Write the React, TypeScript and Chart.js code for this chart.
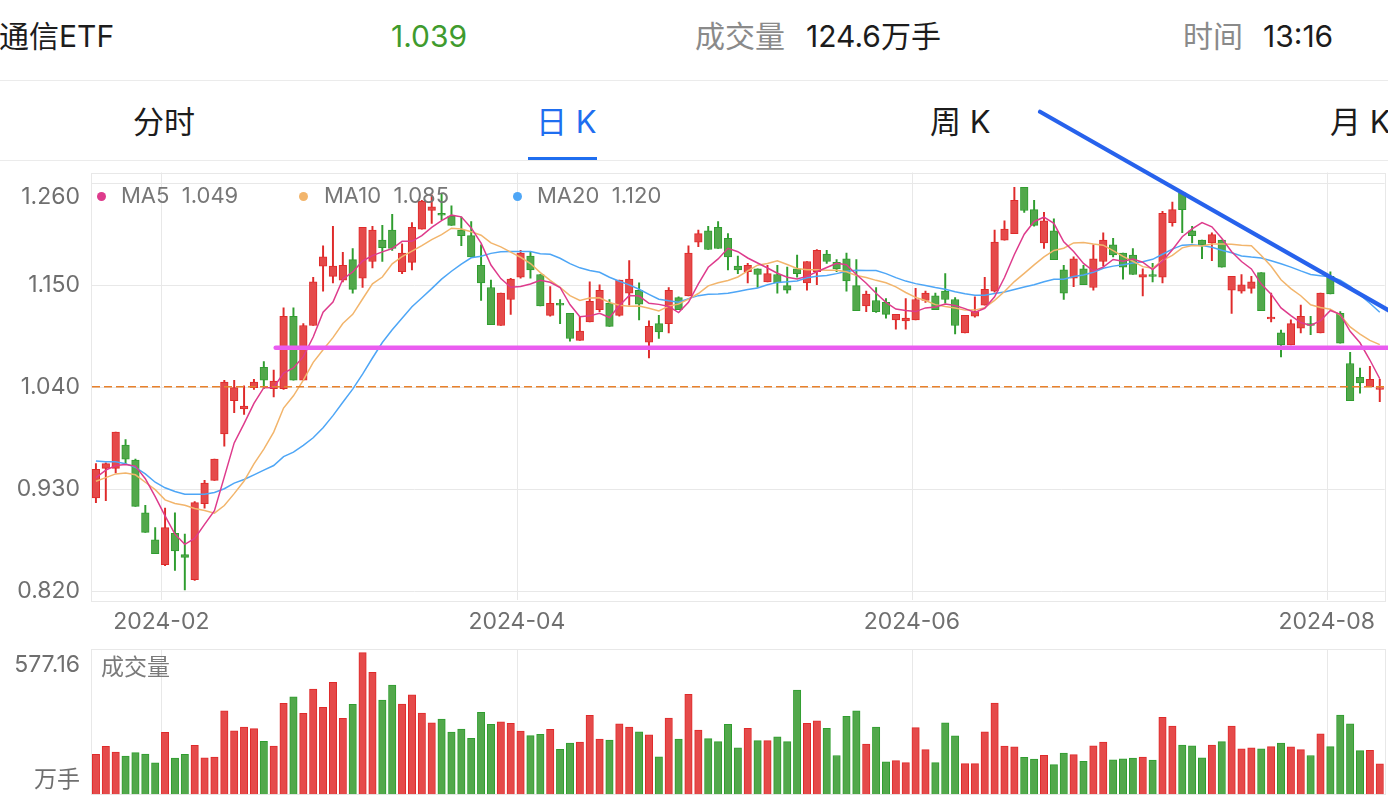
import React, { useEffect, useRef } from 'react';
import { Chart, registerables } from 'chart.js';

Chart.register(...registerables);

// ---------- data ----------
const monthDays: [string, number[]][] = [
  ['2024-01', [23, 24, 25, 26, 29, 30, 31]],
  ['2024-02', [1, 2, 5, 6, 7, 8, 19, 20, 21, 22, 23, 26, 27, 28, 29]],
  ['2024-03', [1, 4, 5, 6, 7, 8, 11, 12, 13, 14, 15, 18, 19, 20, 21, 22, 25, 26, 27, 28, 29]],
  ['2024-04', [1, 2, 3, 8, 9, 10, 11, 12, 15, 16, 17, 18, 19, 22, 23, 24, 25, 26, 29, 30]],
  ['2024-05', [6, 7, 8, 9, 10, 13, 14, 15, 16, 17, 20, 21, 22, 23, 24, 27, 28, 29, 30, 31]],
  ['2024-06', [3, 4, 5, 6, 7, 11, 12, 13, 14, 17, 18, 19, 20, 21, 24, 25, 26, 27, 28]],
  ['2024-07', [1, 2, 3, 4, 5, 8, 9, 10, 11, 12, 15, 16, 17, 18, 19, 22, 23, 24, 25, 26, 29, 30, 31]],
  ['2024-08', [1, 2, 5, 6, 7, 8]],
];
const categories: string[] = monthDays.flatMap(([m, ds]) =>
  ds.map((d) => `${m}-${String(d).padStart(2, '0')}`)
);
const xTickMonths = ['2024-02', '2024-04', '2024-06', '2024-08'];
const yTicks = [0.82, 0.93, 1.04, 1.15, 1.26];

const opens = [
  0.920, 0.952, 0.952, 0.977, 0.961, 0.904, 0.875, 0.848, 0.882, 0.859,
  0.832, 0.914, 0.939, 0.989, 1.025, 1.016, 1.039, 1.061, 1.038, 1.038,
  1.116, 1.047, 1.106, 1.170, 1.159, 1.155, 1.177, 1.157, 1.175, 1.198,
  1.209, 1.164, 1.174, 1.210, 1.230, 1.227, 1.224, 1.209, 1.203, 1.171,
  1.147, 1.106, 1.134, 1.158, 1.181, 1.161, 1.117, 1.130, 1.119, 1.090,
  1.110, 1.123, 1.130, 1.117, 1.141, 1.144, 1.088, 1.108, 1.108, 1.136,
  1.138, 1.196, 1.208, 1.212, 1.200, 1.170, 1.164, 1.167, 1.153, 1.161,
  1.149, 1.167, 1.152, 1.164, 1.183, 1.174, 1.178, 1.149, 1.127, 1.133,
  1.131, 1.112, 1.111, 1.112, 1.133, 1.138, 1.143, 1.134, 1.098, 1.116,
  1.128, 1.143, 1.198, 1.205, 1.255, 1.231, 1.195, 1.208, 1.166, 1.157,
  1.167, 1.147, 1.175, 1.193, 1.184, 1.182, 1.158, 1.161, 1.158, 1.217,
  1.249, 1.208, 1.198, 1.195, 1.198, 1.144, 1.143, 1.146, 1.163, 1.113,
  1.098, 1.085, 1.103, 1.108, 1.098, 1.159, 1.119, 1.065, 1.050, 1.040,
  1.037,
];
const highs = [
  0.957, 0.958, 0.991, 0.983, 0.962, 0.912, 0.888, 0.909, 0.904, 0.881,
  0.916, 0.939, 0.962, 1.047, 1.047, 1.041, 1.048, 1.067, 1.058, 1.125,
  1.125, 1.108, 1.158, 1.192, 1.213, 1.185, 1.189, 1.212, 1.213, 1.214,
  1.226, 1.194, 1.217, 1.241, 1.247, 1.248, 1.235, 1.223, 1.218, 1.193,
  1.155, 1.141, 1.157, 1.187, 1.186, 1.161, 1.148, 1.134, 1.119, 1.116,
  1.153, 1.150, 1.134, 1.155, 1.176, 1.152, 1.111, 1.117, 1.147, 1.137,
  1.192, 1.209, 1.213, 1.218, 1.205, 1.181, 1.173, 1.167, 1.171, 1.171,
  1.169, 1.182, 1.175, 1.188, 1.187, 1.177, 1.184, 1.177, 1.143, 1.147,
  1.135, 1.118, 1.135, 1.146, 1.143, 1.141, 1.162, 1.136, 1.117, 1.137,
  1.158, 1.209, 1.219, 1.255, 1.255, 1.241, 1.228, 1.221, 1.171, 1.180,
  1.171, 1.193, 1.206, 1.200, 1.184, 1.189, 1.167, 1.173, 1.229, 1.239,
  1.249, 1.213, 1.198, 1.206, 1.198, 1.159, 1.161, 1.159, 1.163, 1.141,
  1.101, 1.112, 1.128, 1.116, 1.141, 1.164, 1.121, 1.077, 1.060, 1.062,
  1.048,
];
const lows = [
  0.915, 0.917, 0.947, 0.957, 0.911, 0.883, 0.860, 0.847, 0.842, 0.821,
  0.831, 0.909, 0.939, 0.976, 1.012, 1.010, 1.037, 1.038, 1.029, 1.037,
  1.047, 1.047, 1.106, 1.143, 1.152, 1.153, 1.141, 1.147, 1.168, 1.175,
  1.187, 1.162, 1.166, 1.210, 1.216, 1.220, 1.214, 1.192, 1.180, 1.133,
  1.107, 1.106, 1.118, 1.157, 1.157, 1.127, 1.116, 1.108, 1.089, 1.090,
  1.110, 1.121, 1.105, 1.116, 1.128, 1.112, 1.071, 1.092, 1.098, 1.123,
  1.138, 1.191, 1.188, 1.189, 1.166, 1.162, 1.152, 1.147, 1.153, 1.141,
  1.141, 1.158, 1.144, 1.150, 1.173, 1.164, 1.143, 1.122, 1.121, 1.120,
  1.114, 1.102, 1.102, 1.112, 1.131, 1.123, 1.130, 1.097, 1.098, 1.115,
  1.128, 1.142, 1.198, 1.205, 1.228, 1.213, 1.189, 1.177, 1.134, 1.148,
  1.150, 1.144, 1.170, 1.180, 1.156, 1.161, 1.138, 1.153, 1.152, 1.213,
  1.206, 1.195, 1.178, 1.176, 1.169, 1.119, 1.141, 1.141, 1.122, 1.110,
  1.072, 1.085, 1.098, 1.096, 1.098, 1.140, 1.087, 1.025, 1.033, 1.040,
  1.024,
];
const closes = [
  0.951, 0.957, 0.991, 0.962, 0.911, 0.883, 0.860, 0.888, 0.863, 0.856,
  0.915, 0.936, 0.962, 1.045, 1.039, 1.019, 1.045, 1.047, 1.046, 1.116,
  1.047, 1.106, 1.153, 1.180, 1.170, 1.171, 1.145, 1.212, 1.209, 1.190,
  1.189, 1.184, 1.212, 1.240, 1.234, 1.225, 1.214, 1.203, 1.180, 1.152,
  1.107, 1.141, 1.156, 1.184, 1.166, 1.127, 1.130, 1.128, 1.092, 1.100,
  1.132, 1.144, 1.105, 1.155, 1.156, 1.129, 1.105, 1.099, 1.144, 1.123,
  1.184, 1.205, 1.188, 1.189, 1.180, 1.166, 1.171, 1.161, 1.162, 1.152,
  1.144, 1.162, 1.175, 1.187, 1.175, 1.167, 1.154, 1.122, 1.140, 1.121,
  1.118, 1.118, 1.114, 1.134, 1.141, 1.123, 1.134, 1.106, 1.117, 1.121,
  1.145, 1.196, 1.210, 1.241, 1.230, 1.214, 1.219, 1.177, 1.141, 1.178,
  1.150, 1.178, 1.198, 1.182, 1.169, 1.161, 1.161, 1.159, 1.227, 1.231,
  1.231, 1.203, 1.193, 1.204, 1.169, 1.159, 1.150, 1.153, 1.122, 1.115,
  1.085, 1.108, 1.116, 1.106, 1.141, 1.140, 1.087, 1.025, 1.044, 1.048,
  1.039,
];
// 成交量 (万手)
const volumes = [
  163, 196, 172, 156, 170, 164, 128, 253, 148, 163,
  200, 149, 152, 340, 259, 274, 268, 216, 197, 371,
  397, 330, 429, 354, 456, 310, 367, 577.16, 497, 384,
  445, 368, 405, 331, 291, 307, 254, 266, 228, 334,
  285, 295, 289, 258, 239, 244, 265, 183, 209, 213,
  322, 225, 221, 287, 274, 255, 242, 153, 311, 225,
  407, 262, 227, 215, 285, 189, 269, 219, 219, 234,
  215, 425, 289, 299, 269, 158, 318, 340, 205, 274,
  132, 137, 129, 272, 182, 129, 291, 238, 125, 125,
  255, 372, 197, 193, 151, 144, 159, 121, 168, 162,
  134, 198, 213, 141, 145, 148, 152, 139, 314, 278,
  201, 198, 149, 201, 215, 278, 185, 189, 185, 194,
  209, 193, 182, 158, 246, 194, 323, 287, 178, 179,
  124.6,
];
const ma5Head = [0.942, 0.950, 0.955, 0.956];
const ma10Head = [0.938, 0.942, 0.946, 0.947, 0.945, 0.937, 0.929, 0.918, 0.914];
const ma20Head = [
  0.960, 0.959, 0.959, 0.957, 0.953, 0.946, 0.937, 0.931, 0.927, 0.924,
  0.924, 0.924, 0.926, 0.930, 0.936, 0.940, 0.945, 0.950, 0.955,
];
const refLevel = 1.04; // dashed reference line
const supportLevel = 1.082; // magenta line
const supportStart = 18.2;
const trendLine = [
  { i: 95.6, v: 1.3365 },
  { i: 131.5, v: 1.1187 },
];
const stockName = '通信ETF';
const timeText = '13:16';

// ---------- derived ----------
function movingAvg(period: number, head: number[]) {
  return closes.map((_, i) => {
    if (i < period - 1) return head[i];
    let s = 0;
    for (let k = i - period + 1; k <= i; k++) s += closes[k];
    return s / period;
  });
}
const ma5 = movingAvg(5, ma5Head);
const ma10 = movingAvg(10, ma10Head);
const ma20 = movingAvg(20, ma20Head);
const last = closes.length - 1;
const monthStartIdx = xTickMonths.map((m) => categories.findIndex((c) => c.startsWith(m)));
const isUp = closes.map((c, i) => c >= opens[i]);

const RED_FILL = '#e54a4a';
const RED_LINE = '#df2a2a';
const GREEN_FILL = '#52a84b';
const GREEN_LINE = '#2f9d2f';
const MA5_COLOR = '#de3b8c';
const MA10_COLOR = '#f2b56c';
const MA20_COLOR = '#4ea6f6';
const GRID = '#e8e8e8';
const AXIS_TEXT = '#6f6f6f';
const FONT = 'Inter, "Noto Sans CJK SC", sans-serif';
const GRID_SHIFT = -0.375;
const AXIS_FONT = `23px ${FONT}`;

const priceDecor = {
  id: 'priceDecor',
  beforeDatasetsDraw(chart: any) {
    const { ctx, chartArea: a, scales } = chart;
    const x = scales.x;
    const y = scales.y;
    ctx.save();
    ctx.strokeStyle = GRID;
    ctx.lineWidth = 1;
    ctx.beginPath();
    for (const v of yTicks) {
      const py = Math.round(y.getPixelForValue(v)) + 0.5;
      ctx.moveTo(a.left, py);
      ctx.lineTo(a.right, py);
    }
    for (const i of monthStartIdx) {
      const px = Math.round(x.getPixelForValue(i + GRID_SHIFT)) + 0.5;
      ctx.moveTo(px, a.top);
      ctx.lineTo(px, a.bottom);
    }
    ctx.stroke();
    ctx.strokeRect(Math.round(a.left) + 0.5, Math.round(a.top) + 0.5, Math.round(a.right - a.left), Math.round(a.bottom - a.top));
    ctx.restore();
  },
  afterDatasetsDraw(chart: any) {
    const { ctx, chartArea: a, scales } = chart;
    const x = scales.x;
    const y = scales.y;
    // dashed reference line
    ctx.save();
    ctx.strokeStyle = '#e8812c';
    ctx.lineWidth = 1.6;
    ctx.setLineDash([8, 4]);
    const ry = y.getPixelForValue(refLevel);
    ctx.beginPath();
    ctx.moveTo(a.left + 1, ry);
    ctx.lineTo(a.right, ry);
    ctx.stroke();
    ctx.restore();
    // magenta support line
    ctx.save();
    ctx.strokeStyle = '#ea5cf0';
    ctx.lineWidth = 4.5;
    ctx.lineCap = 'round';
    const sy = y.getPixelForValue(supportLevel);
    ctx.beginPath();
    ctx.moveTo(x.getPixelForValue(supportStart), sy);
    ctx.lineTo(x.getPixelForValue(131.5), sy);
    ctx.stroke();
    ctx.restore();
    // blue trend line
    ctx.save();
    ctx.strokeStyle = '#2762ec';
    ctx.lineWidth = 4.2;
    ctx.lineCap = 'round';
    ctx.beginPath();
    ctx.moveTo(x.getPixelForValue(trendLine[0].i), y.getPixelForValue(trendLine[0].v));
    ctx.lineTo(x.getPixelForValue(trendLine[1].i), y.getPixelForValue(trendLine[1].v));
    ctx.stroke();
    ctx.restore();
  },
  afterDraw(chart: any) {
    const { ctx, chartArea: a, scales } = chart;
    const x = scales.x;
    const y = scales.y;
    ctx.save();
    ctx.fillStyle = AXIS_TEXT;
    ctx.font = AXIS_FONT;
    ctx.textAlign = 'right';
    ctx.textBaseline = 'middle';
    const top = Math.max(...yTicks);
    for (const v of yTicks) {
      const py = y.getPixelForValue(v) + (v === top ? 14 : 0);
      ctx.fillText(v.toFixed(3), 80, py);
    }
    ctx.textAlign = 'center';
    monthStartIdx.forEach((i, k) => {
      const px = x.getPixelForValue(i + GRID_SHIFT);
      ctx.fillText(xTickMonths[k], px, a.bottom + 22);
    });
    ctx.restore();
  },
};

const volDecor = {
  id: 'volDecor',
  beforeDatasetsDraw(chart: any) {
    const { ctx, chartArea: a, scales } = chart;
    const x = scales.x;
    ctx.save();
    ctx.strokeStyle = GRID;
    ctx.lineWidth = 1;
    ctx.beginPath();
    for (const i of monthStartIdx) {
      const px = Math.round(x.getPixelForValue(i + GRID_SHIFT)) + 0.5;
      ctx.moveTo(px, a.top);
      ctx.lineTo(px, a.bottom);
    }
    ctx.stroke();
    ctx.strokeRect(Math.round(a.left) + 0.5, Math.round(a.top) + 0.5, Math.round(a.right - a.left), Math.round(a.bottom - a.top));
    ctx.restore();
  },
  afterDraw(chart: any) {
    const { ctx, chartArea: a } = chart;
    ctx.save();
    ctx.fillStyle = AXIS_TEXT;
    ctx.font = AXIS_FONT;
    ctx.textBaseline = 'middle';
    ctx.textAlign = 'right';
    ctx.fillText(Math.max(...volumes).toFixed(2), 80, a.top + 16);
    ctx.fillText('万手', 80, a.bottom - 14);
    ctx.textAlign = 'left';
    ctx.fillStyle = '#7a7a7a';
    ctx.fillText('成交量', 101, a.top + 19);
    ctx.restore();
  },
};

const Txt = ({ x, cy, size = 30, color = '#1c1c1c', children }: any) => (
  <div
    style={{
      position: 'absolute',
      left: x,
      top: cy - size / 2 - 1,
      height: size,
      lineHeight: `${size}px`,
      fontSize: size,
      color,
      whiteSpace: 'pre',
    }}
  >
    {children}
  </div>
);

export default function App() {
  const priceRef = useRef<HTMLCanvasElement>(null);
  const volRef = useRef<HTMLCanvasElement>(null);

  useEffect(() => {
    const bodyFill = isUp.map((u) => (u ? RED_FILL : GREEN_FILL));
    const bodyLine = isUp.map((u) => (u ? RED_LINE : GREEN_LINE));
    const priceChart = new Chart(priceRef.current as HTMLCanvasElement, {
      type: 'bar',
      data: {
        labels: categories,
        datasets: [
          { type: 'line', label: 'MA5', data: ma5, borderColor: MA5_COLOR, borderWidth: 1.5, pointRadius: 0, order: 0 } as any,
          { type: 'line', label: 'MA10', data: ma10, borderColor: MA10_COLOR, borderWidth: 1.5, pointRadius: 0, order: 0 } as any,
          { type: 'line', label: 'MA20', data: ma20, borderColor: MA20_COLOR, borderWidth: 1.5, pointRadius: 0, order: 0 } as any,
          {
            type: 'bar',
            label: 'body',
            data: opens.map((o, i) => [o, closes[i]]),
            backgroundColor: bodyFill,
            borderColor: bodyLine,
            borderWidth: 1,
            borderSkipped: false,
            barThickness: 7.6,
            minBarLength: 1.6,
            grouped: false,
            order: 1,
          } as any,
          {
            type: 'bar',
            label: 'wick',
            data: lows.map((l, i) => [l, highs[i]]),
            backgroundColor: bodyLine,
            borderWidth: 0,
            barThickness: 1.3,
            grouped: false,
            order: 2,
          } as any,
        ],
      },
      options: {
        animation: false,
        responsive: false,
        maintainAspectRatio: false,
        events: [],
        layout: { padding: { left: 91, right: 3.3, top: 72.5, bottom: 40 } },
        plugins: { legend: { display: false }, tooltip: { enabled: false } },
        scales: {
          x: { type: 'category', display: false, offset: true },
          y: { type: 'linear', display: false, min: 0.81, max: 1.271 },
        },
      },
      plugins: [priceDecor],
    });

    const volChart = new Chart(volRef.current as HTMLCanvasElement, {
      type: 'bar',
      data: {
        labels: categories,
        datasets: [
          {
            label: '成交量',
            data: volumes,
            backgroundColor: bodyFill,
            borderColor: bodyLine,
            borderWidth: 1,
            borderSkipped: 'start',
            barThickness: 7.4,
          } as any,
        ],
      },
      options: {
        animation: false,
        responsive: false,
        maintainAspectRatio: false,
        events: [],
        layout: { padding: { left: 91, right: 3.3, top: 9.3, bottom: 9.7 } },
        plugins: { legend: { display: false }, tooltip: { enabled: false } },
        scales: {
          x: { type: 'category', display: false, offset: true },
          y: { type: 'linear', display: false, min: 0, max: 591 },
        },
      },
      plugins: [volDecor],
    });

    return () => {
      priceChart.destroy();
      volChart.destroy();
    };
  }, []);

  const legend = [
    { name: 'MA5', val: ma5[last], color: MA5_COLOR, dot: 101, text: 121 },
    { name: 'MA10', val: ma10[last], color: MA10_COLOR, dot: 303, text: 324 },
    { name: 'MA20', val: ma20[last], color: MA20_COLOR, dot: 517, text: 537 },
  ];

  return (
    <div
      style={{
        position: 'fixed',
        left: 0,
        top: 0,
        width: 1388,
        height: 804,
        overflow: 'hidden',
        background: '#ffffff',
        fontFamily: FONT,
      }}
    >
      {/* header */}
      <Txt x={-1} cy={37}>{stockName}</Txt>
      <Txt x={391} cy={37} color="#3f9b2e">{closes[last].toFixed(3)}</Txt>
      <Txt x={695} cy={37} color="#8a8a8a">成交量</Txt>
      <Txt x={806} cy={37}>{`${volumes[last]}万手`}</Txt>
      <Txt x={1183} cy={37} color="#8a8a8a">时间</Txt>
      <Txt x={1263} cy={37}>{timeText}</Txt>
      <div style={{ position: 'absolute', left: 0, top: 80, width: 1388, height: 1, background: '#ebebeb' }} />
      {/* tabs */}
      <Txt x={133} cy={122} size={31}>分时</Txt>
      <Txt x={536} cy={122} size={31} color="#1f6ef0">日 K</Txt>
      <Txt x={930} cy={122} size={31}>周 K</Txt>
      <Txt x={1330} cy={122} size={31}>月 K</Txt>
      <div style={{ position: 'absolute', left: 528, top: 157, width: 69, height: 3, background: '#1f6ef0' }} />
      <div style={{ position: 'absolute', left: 0, top: 160, width: 1388, height: 1, background: '#ebebeb' }} />

      <canvas
        ref={priceRef}
        width={1388}
        height={540}
        style={{ position: 'absolute', left: 0, top: 100, width: 1388, height: 540, display: 'block' }}
      />
      <canvas
        ref={volRef}
        width={1388}
        height={164}
        style={{ position: 'absolute', left: 0, top: 640, width: 1388, height: 164, display: 'block' }}
      />

      {/* MA legend */}
      {legend.map((l) => (
        <React.Fragment key={l.name}>
          <div
            style={{
              position: 'absolute',
              left: l.dot - 4.5,
              top: 196 - 4.5,
              width: 9,
              height: 9,
              borderRadius: '50%',
              background: l.color,
            }}
          />
          <Txt x={l.text} cy={196} size={22} color="#777777">
            {`${l.name}  ${l.val.toFixed(3)}`}
          </Txt>
        </React.Fragment>
      ))}
    </div>
  );
}
